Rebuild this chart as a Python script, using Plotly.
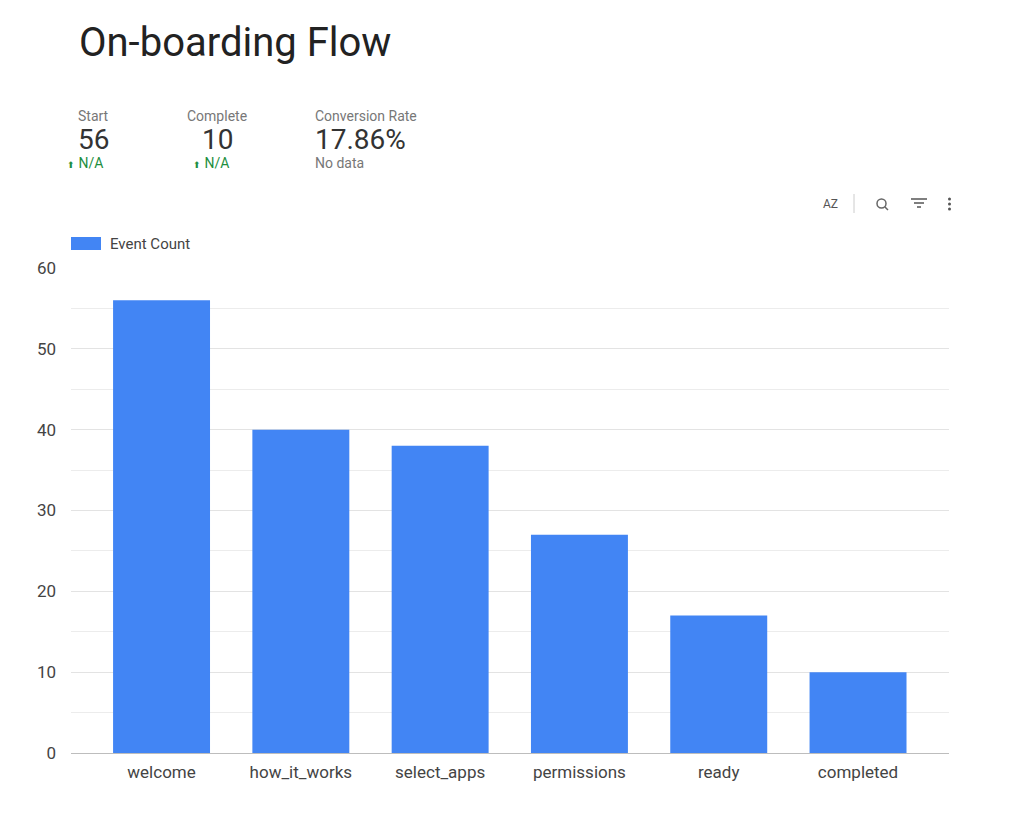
import plotly.graph_objects as go

steps = ["welcome", "how_it_works", "select_apps", "permissions", "ready", "completed"]
event_count = [56, 40, 38, 27, 17, 10]
series_name = "Event Count"

score_labels = ["Start", "Complete", "Conversion Rate"]
score_values = ["56", "10", "17.86%"]
score_deltas = ["N/A", "N/A", "No data"]

BLUE = "#4285f4"
FONT = "Roboto, Arial, sans-serif"

fig = go.Figure()
fig.add_trace(go.Bar(x=steps, y=event_count, name=series_name, marker_color=BLUE,
                     marker_line_width=0, showlegend=False))

W, H = 1024, 816
L, R, T, B = 71, 75, 268, 63
PW, PH = W - L - R, H - T - B


def px(x):
    return (x - L) / PW


def py(y):
    return ((H - B) - y) / PH


ann = []
shapes = []
# Title
ann.append(dict(text="On-boarding Flow", x=px(77), y=py(42), xref="paper", yref="paper",
                xanchor="left", yanchor="middle", showarrow=False,
                font=dict(family=FONT, size=40, color="#222")))
# Scorecards
centers = [93, 217, 363]
for i in range(3):
    if i == 2:
        xa, xx = "left", px(313)
    else:
        xa, xx = "center", px(centers[i])
    ann.append(dict(text=score_labels[i], x=xx, y=py(116),
                    xref="paper", yref="paper", xanchor=xa, yanchor="middle",
                    showarrow=False, font=dict(family=FONT, size=14, color="#777")))
    ann.append(dict(text=score_values[i], x=xx, y=py(139),
                    xref="paper", yref="paper", xanchor=xa, yanchor="middle",
                    showarrow=False, font=dict(family=FONT, size=28, color="#333")))
    if i < 2:
        ann.append(dict(text="<span style='font-size:9px'>⬆</span> " + score_deltas[i],
                        x=px([65, 191][i]), y=py(163),
                        xref="paper", yref="paper", xanchor="left", yanchor="middle",
                        showarrow=False, font=dict(family=FONT, size=14, color="#1e8e3e")))
    else:
        ann.append(dict(text=score_deltas[i], x=px(313), y=py(163),
                        xref="paper", yref="paper", xanchor="left", yanchor="middle",
                        showarrow=False, font=dict(family=FONT, size=14, color="#777")))

# Toolbar icons (approximations)
ann.append(dict(text="AZ", x=px(830), y=py(204), xref="paper", yref="paper",
                xanchor="center", yanchor="middle", showarrow=False,
                font=dict(family=FONT, size=12, color="#555")))
shapes.append(dict(type="line", xref="paper", yref="paper", x0=px(854), x1=px(854),
                   y0=py(194), y1=py(213), line=dict(color="#ccc", width=1)))
shapes.append(dict(type="circle", xref="paper", yref="paper", x0=px(877), x1=px(886),
                   y0=py(199), y1=py(208), line=dict(color="#666", width=1.5)))
shapes.append(dict(type="line", xref="paper", yref="paper", x0=px(885), x1=px(888),
                   y0=py(207), y1=py(210), line=dict(color="#666", width=1.5)))
for j, (a, b) in enumerate([(911, 927), (914, 924), (917, 921)]):
    shapes.append(dict(type="line", xref="paper", yref="paper", x0=px(a), x1=px(b),
                       y0=py(199 + 4 * j), y1=py(199 + 4 * j), line=dict(color="#555", width=1.5)))
for j in range(3):
    cy = 199 + 5 * j
    shapes.append(dict(type="circle", xref="paper", yref="paper", x0=px(948), x1=px(951),
                       y0=py(cy - 1.5), y1=py(cy + 1.5), fillcolor="#555", line=dict(width=0)))

# Legend
shapes.append(dict(type="rect", xref="paper", yref="paper", x0=px(71), x1=px(101),
                   y0=py(237), y1=py(250), fillcolor=BLUE, line=dict(width=0)))
ann.append(dict(text=series_name, x=px(108), y=py(244), xref="paper", yref="paper",
                xanchor="left", yanchor="middle", showarrow=False,
                font=dict(family=FONT, size=15, color="#444")))

fig.update_layout(
    width=W, height=H,
    margin=dict(l=L, r=R, t=T, b=B, pad=0),
    plot_bgcolor="white", paper_bgcolor="white",
    bargap=0.304,
    font=dict(family=FONT, color="#444"),
    annotations=ann, shapes=shapes,
    xaxis=dict(range=[-0.65, 5.653], showgrid=False, showline=True, linecolor="#bdbdbd",
               linewidth=1, tickfont=dict(size=17, color="#444"), ticks="", ticklen=0,
               ticklabelstandoff=4, fixedrange=True),
    yaxis=dict(range=[0, 60], dtick=10, tick0=0, showgrid=True, gridcolor="#e3e3e3",
               zeroline=False, showline=False, ticks="", ticklabelstandoff=14,
               tickfont=dict(size=17, color="#444"),
               minor=dict(dtick=5, showgrid=True, gridcolor="#ececec")),
)

fig.write_html("out.html")
